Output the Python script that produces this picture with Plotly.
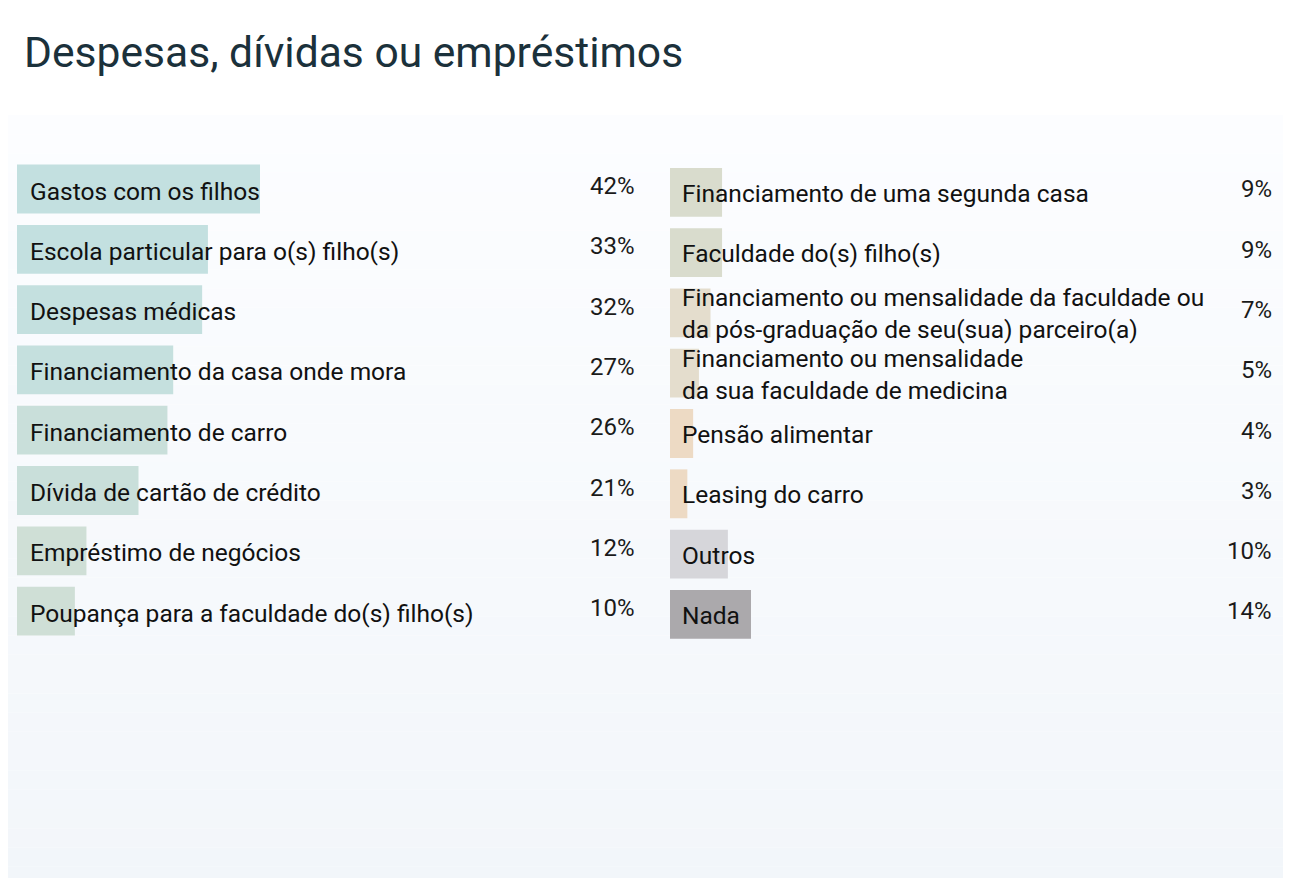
import plotly.graph_objects as go

# Data
title_text = "Despesas, dívidas ou empréstimos"

left_labels = [
    "Gastos com os filhos",
    "Escola particular para o(s) filho(s)",
    "Despesas médicas",
    "Financiamento da casa onde mora",
    "Financiamento de carro",
    "Dívida de cartão de crédito",
    "Empréstimo de negócios",
    "Poupança para a faculdade do(s) filho(s)",
]
left_values = [42, 33, 32, 27, 26, 21, 12, 10]

right_labels = [
    "Financiamento de uma segunda casa",
    "Faculdade do(s) filho(s)",
    "Financiamento ou mensalidade da faculdade ou<br>da pós-graduação de seu(sua) parceiro(a)",
    "Financiamento ou mensalidade<br>da sua faculdade de medicina",
    "Pensão alimentar",
    "Leasing do carro",
    "Outros",
    "Nada",
]
right_values = [9, 9, 7, 5, 4, 3, 10, 14]

# Styles
left_colors = ["#c3e0e0", "#c3e0e0", "#c4e0df", "#c5e0de", "#c9dfda", "#c9dfda", "#cfdfd6", "#cfdfd6"]
right_colors = ["#d9dccd", "#d9dccd", "#e4ddcd", "#e4ddcd", "#eddac4", "#eddac4", "#d6d6da", "#aba9ac"]

W, H = 1291, 878
OFF = 8  # the page body puts the figure 8px in from the corner
FONT = "Roboto"

fig = go.Figure()

fig.add_trace(go.Bar(
    x=left_values, y=left_labels, orientation="h",
    marker=dict(color=left_colors, line=dict(width=0)),
    xaxis="x", yaxis="y", hoverinfo="skip", showlegend=False,
))
fig.add_trace(go.Bar(
    x=right_values, y=right_labels, orientation="h",
    marker=dict(color=right_colors, line=dict(width=0)),
    xaxis="x2", yaxis="y2", hoverinfo="skip", showlegend=False,
))

px_per_pct = 243 / 42.0

# background panel with a soft vertical gradient, built from thin bands
shapes = []
top_y, bot_y = 115 - OFF, H
n_bands = 40
c0 = (252, 253, 255)
c1 = (242, 246, 250)
for i in range(n_bands):
    t = i / (n_bands - 1)
    col = tuple(round(c0[k] + (c1[k] - c0[k]) * t) for k in range(3))
    y0 = top_y + (bot_y - top_y) * i / n_bands
    y1 = top_y + (bot_y - top_y) * (i + 1) / n_bands
    shapes.append(dict(
        type="rect", xref="paper", yref="paper", layer="below",
        x0=0, x1=(1288 - OFF) / W, y0=1 - y1 / H, y1=1 - y0 / H,
        fillcolor="rgb(%d,%d,%d)" % col, line=dict(width=0),
    ))

lab_font = dict(family=FONT, size=24.5, color="#111111")
pct_font = dict(family=FONT, size=24, color="#1a1a1a")

annotations = []
for lab, val in zip(left_labels, left_values):
    annotations.append(dict(
        xref="x", yref="y", x=0, y=lab, xanchor="left", xshift=11, yshift=-2,
        text=lab, showarrow=False, align="left", font=lab_font,
    ))
    annotations.append(dict(
        xref="x domain", yref="y", x=1, y=lab, xanchor="right", yshift=3,
        text="%d%%" % val, showarrow=False, font=pct_font,
    ))
for lab, val in zip(right_labels, right_values):
    annotations.append(dict(
        xref="x2", yref="y2", x=0, y=lab, xanchor="left", xshift=10, yshift=-1,
        text=lab, showarrow=False, align="left", font=lab_font,
    ))
    annotations.append(dict(
        xref="x2 domain", yref="y2", x=1, y=lab, xanchor="right", yshift=3,
        text="%d%%" % val, showarrow=False, font=pct_font,
    ))

annotations.append(dict(
    xref="paper", yref="paper", x=14 / W, y=1 - 44 / H, xanchor="left", yanchor="middle",
    text=title_text, showarrow=False,
    font=dict(family=FONT, size=42.6, color="#1b313b"),
))

# screen pixel positions from the reference, moved into figure space
left_x0, left_x1 = 17 - OFF, 634 - OFF + 3
right_x0, right_x1 = 670 - OFF, 1271 - OFF + 3
row_step = 60.3
left_top = 189 - OFF - row_step / 2
right_top = 192.3 - OFF - row_step / 2
n = len(left_labels)

fig.update_layout(
    width=W, height=H,
    margin=dict(l=0, r=0, t=0, b=0),
    paper_bgcolor="white", plot_bgcolor="rgba(0,0,0,0)",
    bargap=0.19,
    font=dict(family=FONT),
    xaxis=dict(domain=[left_x0 / W, left_x1 / W], range=[0, (left_x1 - left_x0) / px_per_pct],
               visible=False, fixedrange=True),
    yaxis=dict(domain=[1 - (left_top + n * row_step) / H, 1 - left_top / H],
               autorange="reversed", visible=False, fixedrange=True),
    xaxis2=dict(domain=[right_x0 / W, right_x1 / W], range=[0, (right_x1 - right_x0) / px_per_pct],
                visible=False, fixedrange=True, anchor="y2"),
    yaxis2=dict(domain=[1 - (right_top + n * row_step) / H, 1 - right_top / H],
                autorange="reversed", visible=False, fixedrange=True, anchor="x2"),
    shapes=shapes,
    annotations=annotations,
)

fig.write_html("out.html")
